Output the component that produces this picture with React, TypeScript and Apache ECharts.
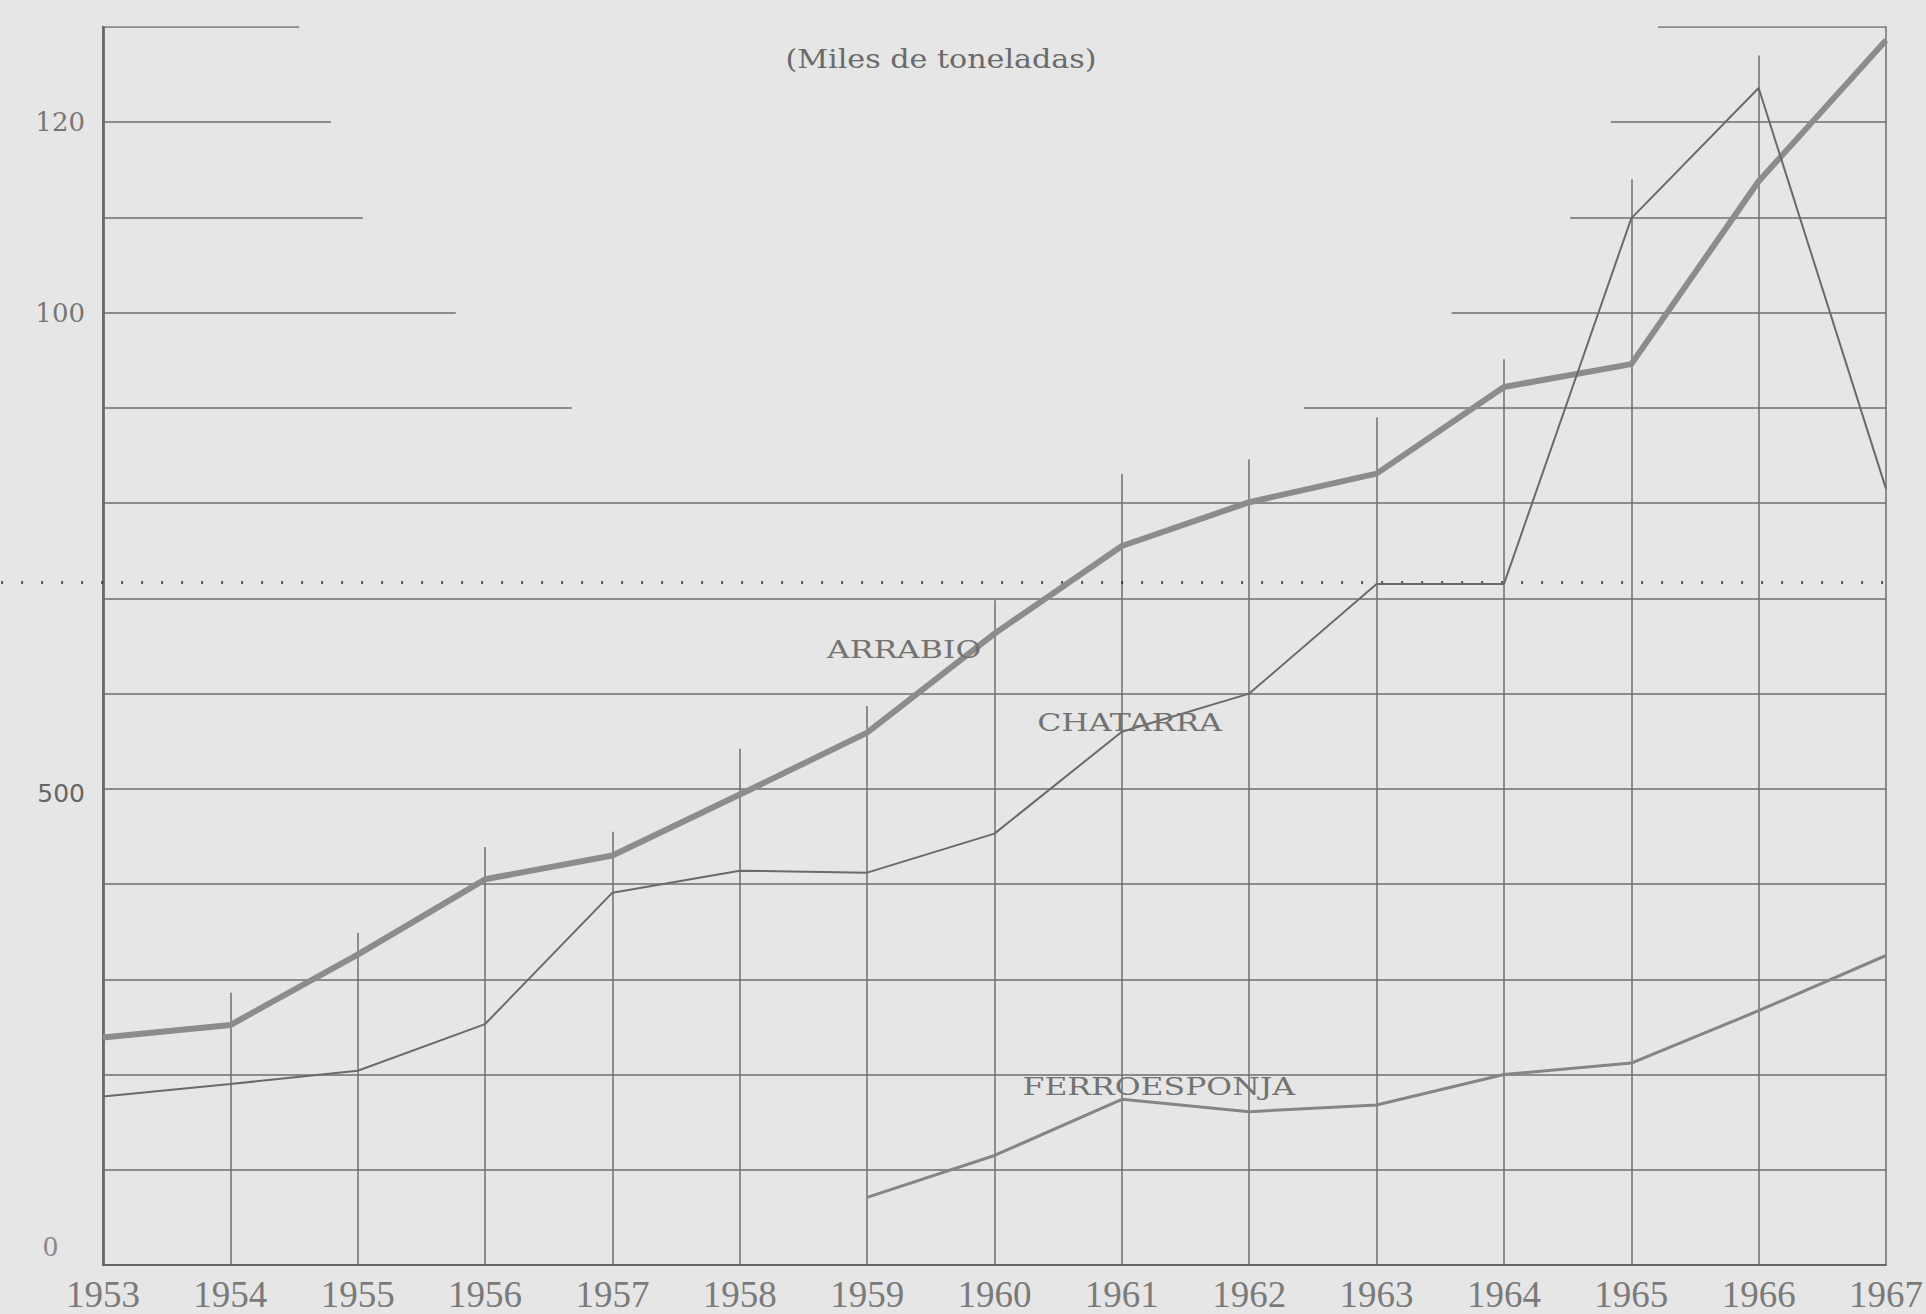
import React, { useEffect, useRef } from "react";
import * as echarts from "echarts";

// ---- data (thousand tonnes) ----
const years = [1953, 1954, 1955, 1956, 1957, 1958, 1959, 1960, 1961, 1962, 1963, 1964, 1965, 1966, 1967];
const arrabio = [239, 252, 326, 405, 430, 494, 559, 663, 755, 801, 831, 922, 946, 1138, 1286];
const chatarra = [177, 190, 204, 253, 391, 414, 412, 453, 560, 600, 715, 715, 1099, 1236, 815];
const ferroYears = [1959, 1960, 1961, 1962, 1963, 1964, 1965, 1966, 1967];
const ferroesponja = [71, 115, 174, 161, 168, 200, 212, 267, 325];

// y tick labels as printed on the original
const yTickText: Record<number, string> = { 0: "0", 500: "500", 1000: "100", 1200: "120" };

// hand-drawn grid: full horizontal rules, partial upper rules, vertical rules up to a height
const fullRules = [100, 200, 300, 400, 500, 600, 700, 800];
const partialRules = [900, 1000, 1100, 1200, 1300];
const partialLeftEnd = [1956.68, 1955.77, 1955.04, 1954.79, 1954.54];
const partialRightStart = [1962.43, 1963.59, 1964.52, 1964.84, 1965.21];
const verticalTops = [1315, 286, 349, 439, 455, 542, 587, 698, 831, 846, 890, 951, 1140, 1270, 1315];
const breakLevel = 717;

const seriesLabels = [
  { text: "ARRABIO", x: 1959.29, y: 646 },
  { text: "CHATARRA", x: 1961.06, y: 569 },
  { text: "FERROESPONJA", x: 1961.29, y: 187 },
];
const unitLabel = { text: "(Miles de toneladas)", x: 1959.58, y: 1266 };

export default function App() {
  const ref = useRef<HTMLDivElement>(null);
  useEffect(() => {
    if (!ref.current) return;
    const chart = echarts.init(ref.current, null, { renderer: "svg" });

    const gridSegments: any[] = [];
    fullRules.forEach((v) => gridSegments.push({ coords: [[1953, v], [1967, v]] }));
    partialRules.forEach((v, i) => {
      gridSegments.push({ coords: [[1953, v], [partialLeftEnd[i], v]] });
      gridSegments.push({ coords: [[partialRightStart[i], v], [1967, v]] });
    });
    years.forEach((yr, i) => gridSegments.push({ coords: [[yr, 0], [yr, verticalTops[i]]] }));

    const option: any = {
      animation: false,
      backgroundColor: "#e6e6e6",
      grid: { left: 103, right: 37, top: 27, bottom: 49, containLabel: false },
      xAxis: {
        type: "value",
        min: 1953,
        max: 1967,
        interval: 1,
        splitLine: { show: false },
        axisTick: { show: false },
        axisLine: { lineStyle: { color: "#666", width: 2 } },
        axisLabel: {
          formatter: (v: number) => String(v),
          fontFamily: "Liberation Serif",
          fontSize: 37,
          color: "#7a7a7a",
          margin: 11,
        },
      },
      yAxis: {
        type: "value",
        min: 0,
        max: 1300,
        interval: 100,
        splitLine: { show: false },
        axisTick: { show: false },
        axisLine: { show: true, lineStyle: { color: "#555", width: 2.5 } },
        axisLabel: {
          margin: 18,
          formatter: (v: number) => {
            const t = yTickText[v];
            if (t === undefined) return "";
            if (v === 0) return "{z|" + t + "}";
            if (v === 500) return "{s|" + t + "}";
            return "{t|" + t + "}";
          },
          rich: {
            z: { fontFamily: "Liberation Serif", fontSize: 30, color: "#8a8a8a", padding: [0, 27, 40, 0] },
            s: { fontFamily: "DejaVu Sans", fontSize: 25, color: "#666", padding: [10, 0, 0, 0] },
            t: { fontFamily: "DejaVu Serif", fontSize: 26, color: "#777" },
          },
        },
      },
      series: [
        {
          type: "lines",
          coordinateSystem: "cartesian2d",
          polyline: false,
          silent: true,
          z: 1,
          lineStyle: { color: "#6e6e6e", width: 1.5, opacity: 1 },
          data: gridSegments,
        },
        {
          type: "lines",
          coordinateSystem: "cartesian2d",
          polyline: false,
          silent: true,
          clip: false,
          z: 1,
          lineStyle: { color: "#333", width: 3, opacity: 0.8, type: [2, 18] },
          data: [{ coords: [[1952.2, breakLevel], [1967, breakLevel]] }],
        },
        {
          name: "ARRABIO",
          type: "line",
          z: 3,
          symbol: "none",
          lineStyle: { color: "#8c8c8c", width: 6 },
          data: years.map((y, i) => [y, arrabio[i]]),
        },
        {
          name: "CHATARRA",
          type: "line",
          z: 3,
          symbol: "none",
          lineStyle: { color: "#6a6a6a", width: 2 },
          data: years.map((y, i) => [y, chatarra[i]]),
        },
        {
          name: "FERROESPONJA",
          type: "line",
          z: 3,
          symbol: "none",
          lineStyle: { color: "#858585", width: 3 },
          data: ferroYears.map((y, i) => [y, ferroesponja[i]]),
        },
      ],
    };
    chart.setOption(option);

    const toPx = (x: number, y: number) => chart.convertToPixel({ gridIndex: 0 }, [x, y]) as number[];
    const graphics: any[] = seriesLabels.map((l) => {
      const p = toPx(l.x, l.y);
      return {
        type: "text",
        x: p[0],
        y: p[1],
        scaleX: 1.26,
        z: 10,
        style: {
          text: l.text,
          font: "25px 'DejaVu Serif'",
          fill: "#727272",
          align: "center",
          verticalAlign: "middle",
        },
      };
    });
    const up = toPx(unitLabel.x, unitLabel.y);
    graphics.push({
      type: "text",
      x: up[0],
      y: up[1],
      scaleX: 1.16,
      z: 10,
      style: {
        text: unitLabel.text,
        font: "26px 'DejaVu Serif'",
        fill: "#6a6a6a",
        align: "center",
        verticalAlign: "middle",
      },
    });
    chart.setOption({ graphic: graphics });

    return () => chart.dispose();
  }, []);

  return (
    <div
      ref={ref}
      style={{ position: "fixed", left: 0, top: 0, width: "1926px", height: "1314px" }}
    />
  );
}
